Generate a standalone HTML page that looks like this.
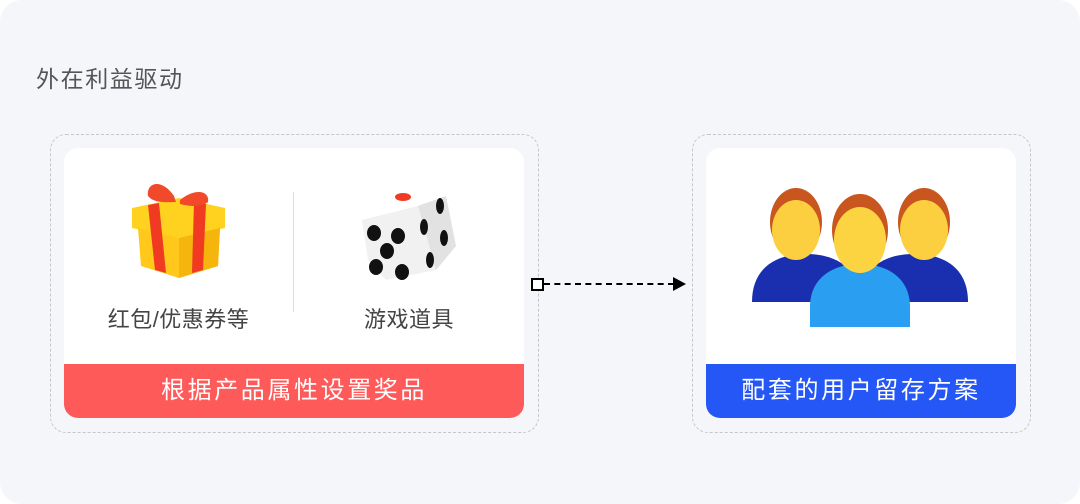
<!DOCTYPE html>
<html><head><meta charset="utf-8"><style>
html,body{margin:0;padding:0;background:#fff}
#p{position:relative;width:1080px;height:504px;background:#f5f6fa;border-radius:22px;overflow:hidden;font-family:"Liberation Sans","Noto Sans CJK SC",sans-serif}
.t{position:absolute;white-space:nowrap}
.dash{position:absolute;border:1.3px dashed #c4c6cc;border-radius:16px;box-sizing:border-box}
.card{position:absolute;background:#fff;border-radius:14px;overflow:hidden}
.band{position:absolute;left:0;right:0;bottom:0;height:54px;color:#fff;font-size:24px;text-align:center;line-height:54px;letter-spacing:2.6px}
</style></head><body><div id="p">
<div class="t" style="left:36px;top:60px;font-size:23px;letter-spacing:1.6px;color:#555">外在利益驱动</div>

<div class="dash" style="left:50px;top:134px;width:489px;height:299px"></div>
<div class="card" style="left:64px;top:148px;width:460px;height:270px">
  <div style="position:absolute;left:229px;top:44px;width:1px;height:120px;background:#ddd"></div>
  <svg style="position:absolute;left:60px;top:30px" width="110" height="105" viewBox="0 0 110 105">
    <path d="M8 30 L55 20 L101 30 L101 50 L55 60 L8 50Z" fill="#ffd21f"/>
    <path d="M14 50 L55 60 L96 50 L94 88 L55 100 L17 88Z" fill="#ffc81a"/>
    <path d="M55 60 L96 50 L94 88 L55 100Z" fill="#f5b50d"/>
    <path d="M24 27 L35 25 L42 95 L31 92Z" fill="#f03a22"/>
    <path d="M70 24 L82 26 L79 92 L68 95Z" fill="#f03a22"/>
    <path d="M50 18 C38 0 22 4 24 18 C30 26 45 24 52 24Z" fill="#f04a2a"/>
    <path d="M56 22 C70 10 86 12 84 24 C76 30 64 28 56 26Z" fill="#f04a2a"/>
  </svg>
  <svg style="position:absolute;left:292px;top:40px" width="110" height="100" viewBox="0 0 110 100">
    <path d="M6 32 L62 18 L90 8 L100 58 L80 82 L30 92 L12 72Z" fill="#f1f1f1"/>
    <path d="M62 18 L90 8 L100 58 L80 82Z" fill="#e2e2e2"/>
    <ellipse cx="47" cy="9" rx="8" ry="4" fill="#f03a22"/>
    <g fill="#111">
      <ellipse cx="18" cy="45" rx="7" ry="8"/><ellipse cx="42" cy="48" rx="7" ry="8"/>
      <ellipse cx="31" cy="63" rx="7" ry="8"/><ellipse cx="20" cy="79" rx="7" ry="8"/>
      <ellipse cx="46" cy="84" rx="7" ry="8"/>
      <ellipse cx="68" cy="39" rx="4" ry="8"/><ellipse cx="84" cy="18" rx="4" ry="8"/>
      <ellipse cx="88" cy="50" rx="4" ry="8"/><ellipse cx="74" cy="72" rx="4" ry="8"/>
    </g>
  </svg>
  <div class="t" style="left:0;width:229px;text-align:center;top:154px;font-size:22px;letter-spacing:0.5px;color:#444">红包/优惠券等</div>
  <div class="t" style="left:230px;width:230px;text-align:center;top:154px;font-size:22px;letter-spacing:0.5px;color:#444">游戏道具</div>
  <div class="band" style="background:#ff5a5a">根据产品属性设置奖品</div>
</div>

<div style="position:absolute;left:531px;top:278px;width:9px;height:9px;border:2px solid #000;background:#fff"></div>
<div style="position:absolute;left:544px;top:283px;width:130px;border-top:2px dashed #000"></div>
<div style="position:absolute;left:673px;top:277px;width:0;height:0;border-left:13px solid #000;border-top:7px solid transparent;border-bottom:7px solid transparent"></div>

<div class="dash" style="left:692px;top:134px;width:339px;height:299px"></div>
<div class="card" style="left:706px;top:148px;width:310px;height:270px">
  <svg style="position:absolute;left:46px;top:34px" width="218" height="150" viewBox="0 0 218 150">
    <path d="M0 120 C0 85 25 72 54 72 C83 72 108 85 108 120Z" fill="#1a2fb0"/>
    <path d="M108 120 C108 85 133 72 162 72 C191 72 216 85 216 120Z" fill="#1a2fb0"/>
    <ellipse cx="44" cy="40" rx="26" ry="34" fill="#c8561e"/>
    <ellipse cx="44" cy="48" rx="24" ry="30" fill="#fbcf3f"/>
    <ellipse cx="172" cy="40" rx="26" ry="34" fill="#c8561e"/>
    <ellipse cx="172" cy="48" rx="24" ry="30" fill="#fbcf3f"/>
    <path d="M58 145 L58 125 C58 95 82 82 108 82 C134 82 158 95 158 125 L158 145Z" fill="#2a9ef0"/>
    <ellipse cx="108" cy="48" rx="28" ry="36" fill="#c8561e"/>
    <ellipse cx="108" cy="58" rx="26" ry="33" fill="#fcd442"/>
  </svg>
  <div class="band" style="background:#2457f5">配套的用户留存方案</div>
</div>
</div></body></html>
